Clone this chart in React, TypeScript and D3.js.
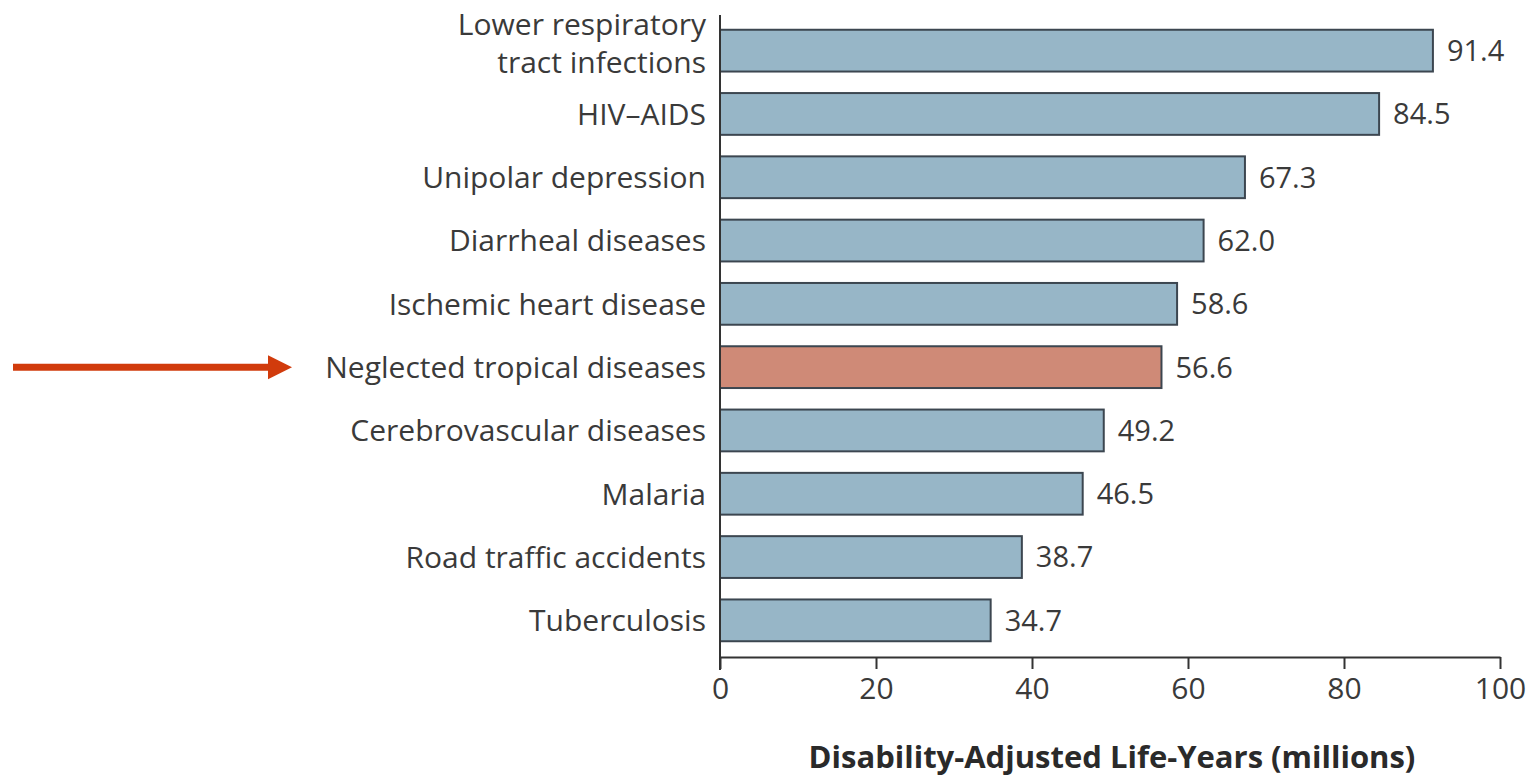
import React, { useEffect, useRef } from 'react';
import * as d3 from 'd3';

const categories = [
  'Lower respiratory|tract infections',
  'HIV–AIDS',
  'Unipolar depression',
  'Diarrheal diseases',
  'Ischemic heart disease',
  'Neglected tropical diseases',
  'Cerebrovascular diseases',
  'Malaria',
  'Road traffic accidents',
  'Tuberculosis',
];
const values = [91.4, 84.5, 67.3, 62.0, 58.6, 56.6, 49.2, 46.5, 38.7, 34.7];
const highlighted = ['Neglected tropical diseases'];
const xTicks = [0, 20, 40, 60, 80, 100];
const xTitle = 'Disability-Adjusted Life-Years (millions)';

const App: React.FC = () => {
  const svgRef = useRef<SVGSVGElement>(null);

  useEffect(() => {
    if (!svgRef.current) return;
    const width = 1534;
    const height = 778;
    const font = '"Open Sans", "Noto Sans", sans-serif';

    const svg = d3.select(svgRef.current);
    svg.selectAll('*').remove();
    svg.attr('width', width).attr('height', height);

    const data = categories.map((c, i) => ({ name: c, value: values[i] }));

    const x = d3.scaleLinear().domain([0, 100]).range([720, 1500]);
    const y = d3.scaleBand()
      .domain(categories)
      .range([19, 652])
      .paddingInner(0.34)
      .paddingOuter(0.17);

    // bars
    svg.selectAll('rect.bar')
      .data(data)
      .enter()
      .append('rect')
      .attr('class', 'bar')
      .attr('x', x(0))
      .attr('y', d => y(d.name) as number)
      .attr('width', d => x(d.value) - x(0))
      .attr('height', y.bandwidth())
      .attr('fill', d => highlighted.includes(d.name) ? '#cf8a77' : '#97b6c7')
      .attr('stroke', '#3c4650')
      .attr('stroke-width', 2);

    // value labels
    svg.selectAll('text.val')
      .data(data)
      .enter()
      .append('text')
      .attr('x', d => x(d.value) + 14)
      .attr('y', d => (y(d.name) as number) + y.bandwidth() / 2)
      .attr('dy', '0.36em')
      .attr('fill', '#3a3a3a')
      .style('font-family', font)
      .style('font-size', '29px')
      .text(d => d.value.toFixed(1));

    // category labels
    const labels = svg.selectAll('text.cat')
      .data(data)
      .enter()
      .append('text')
      .attr('text-anchor', 'end')
      .attr('fill', '#3a3a3a')
      .style('font-family', font)
      .style('font-size', '30px');
    labels.each(function (d) {
      const lines = d.name.split('|');
      const cy = (y(d.name) as number) + y.bandwidth() / 2 - (lines.length > 1 ? 7 : 0);
      const lh = 38;
      lines.forEach((ln, i) => {
        d3.select(this).append('tspan')
          .attr('x', 706)
          .attr('y', cy + (i - (lines.length - 1) / 2) * lh)
          .attr('dy', '0.36em')
          .text(ln);
      });
    });

    // y axis line
    svg.append('line')
      .attr('x1', x(0)).attr('x2', x(0))
      .attr('y1', 15).attr('y2', 670)
      .attr('stroke', '#333').attr('stroke-width', 2);

    // x axis
    const axis = svg.append('g')
      .attr('transform', 'translate(0,657)')
      .call(d3.axisBottom(x).tickValues(xTicks).tickSize(12).tickPadding(9).tickSizeOuter(0));
    axis.select('.domain').attr('stroke', '#333').attr('stroke-width', 2);
    axis.selectAll('.tick line').attr('stroke', '#333').attr('stroke-width', 2);
    axis.selectAll('.tick text')
      .attr('fill', '#3a3a3a')
      .style('font-family', font)
      .style('font-size', '30px');

    svg.append('text')
      .attr('x', 1112)
      .attr('y', 768)
      .attr('text-anchor', 'middle')
      .attr('fill', '#2a2a2a')
      .style('font-family', font)
      .style('font-size', '31px')
      .style('font-weight', 'bold')
      .text(xTitle);

    // arrow
    const ay = (y(highlighted[0]) as number) + y.bandwidth() / 2;
    svg.append('line')
      .attr('x1', 13).attr('x2', 272)
      .attr('y1', ay).attr('y2', ay)
      .attr('stroke', '#d13b0c').attr('stroke-width', 7);
    svg.append('path')
      .attr('d', `M268,${ay - 12} L292,${ay} L268,${ay + 12} Z`)
      .attr('fill', '#d13b0c');
  }, []);

  return <svg ref={svgRef} style={{ position: 'absolute', left: 0, top: 0 }} />;
};

export default App;
